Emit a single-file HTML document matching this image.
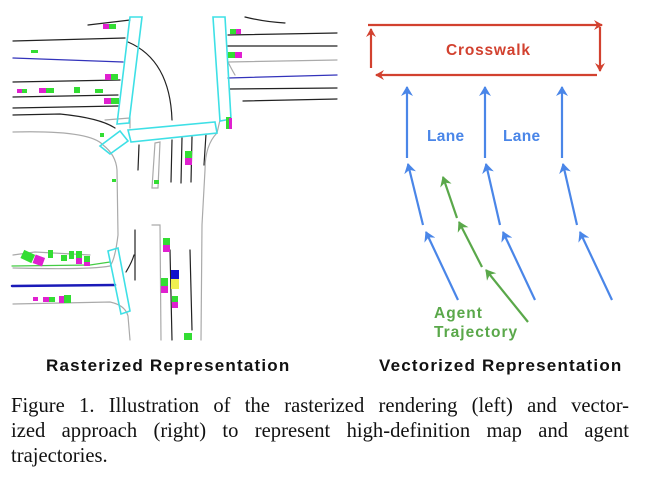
<!DOCTYPE html>
<html><head><meta charset="utf-8"><style>
html,body{margin:0;padding:0;background:#fff;width:645px;height:477px;overflow:hidden;position:relative}
.t{position:absolute;font-family:"Liberation Sans",sans-serif;font-weight:bold;white-space:nowrap}
.cl{position:absolute;left:11px;width:618px;font-family:"Liberation Serif",serif;font-size:20.6px;line-height:25px;text-align:justify;text-align-last:justify;color:#111;white-space:nowrap}
</style></head><body>
<svg width="645" height="477" style="position:absolute;left:0;top:0">
<defs>
<marker id="r" markerWidth="10" markerHeight="10" refX="8" refY="5" orient="auto" markerUnits="userSpaceOnUse"><path d="M0,0 L9,5 L0,10 L3,5 Z" fill="#d2412f"/></marker>
<marker id="b" markerWidth="12" markerHeight="12" refX="9" refY="6" orient="auto" markerUnits="userSpaceOnUse"><path d="M0,0 L10,6 L0,12 L3,6 Z" fill="#4a86e8"/></marker>
<marker id="g" markerWidth="12" markerHeight="12" refX="9" refY="6" orient="auto" markerUnits="userSpaceOnUse"><path d="M0,0 L10,6 L0,12 L3,6 Z" fill="#5aa84a"/></marker>
</defs>
<g fill="none" stroke-linecap="round">
<g stroke="#222" stroke-width="1.2">
<path d="M13,41 L125,38"/><path d="M13,82 L120,80"/><path d="M13,97 L118,95"/><path d="M13,108 L118,106"/><path d="M13,115 L60,114 Q100,118 115,128"/>
<path d="M228,35 L337,33"/><path d="M228,46 L337,46"/><path d="M230,89 L337,88"/><path d="M243,101 L337,99"/>
<path d="M128,42 Q170,60 172,120"/><path d="M88,25 L130,20"/><path d="M245,17 Q265,22 285,23"/>
<path d="M139,145 L138,170"/><path d="M172,140 L171,182"/><path d="M182,138 L181,183"/><path d="M192,137 L191,182"/><path d="M206,134 L204,165"/>
<path d="M135,230 L135,280"/><path d="M126,272 Q132,262 134,255"/><path d="M170,250 L172,340"/><path d="M190,250 L192,330"/>
</g>
<g stroke="#3333bb" stroke-width="1.3"><path d="M13,58 L123,62"/><path d="M228,78 L337,75"/></g>
<path d="M12,286 L115,285" stroke="#1a1ab8" stroke-width="2.5"/>
<path d="M12,266 L90,265 L110,262" stroke="#4c4" stroke-width="1.2"/>
<g stroke="#aaa" stroke-width="1.2">
<path d="M13,132 Q90,130 103,145 Q116,155 117,170 L118,235 Q115,260 110,266 Q90,270 13,268"/>
<path d="M13,304 L110,302 Q125,305 128,316 L130,340"/>
<path d="M228,62 L337,60"/><path d="M228,62 Q232,70 235,75"/>
<path d="M220,120 L217,133 Q205,145 205,170 L202,225 L201,340"/>
<path d="M152,225 L160,225 L161,340"/>
<path d="M155,143 L160,142 L158,188 L152,188 Z"/>
<path d="M105,120 L130,118 L130,128"/>
<path d="M90,255 L35,252 L13,255"/>
</g>
<g stroke="#3ee0e6" stroke-width="1.6">
<path d="M130,17 L142,17 L129,123 L117,124 Z"/><path d="M213,17 L225,17 L231,119 L220,121 Z"/>
<path d="M128,130 L215,122 L217,133 L131,142 Z"/><path d="M100,146 L120,131 L128,141 L110,154 Z"/>
<path d="M108,251 L118,248 L130,311 L121,314 Z"/>
</g>
</g>
<g>
<rect x="103" y="24" width="6" height="5" fill="#e020d0"/><rect x="109" y="24" width="7" height="5" fill="#3d3"/>
<rect x="230" y="29" width="6" height="5" fill="#3d3"/><rect x="236" y="29" width="5" height="5" fill="#e020d0"/>
<rect x="228" y="52" width="7" height="6" fill="#3d3"/><rect x="235" y="52" width="7" height="6" fill="#e020d0"/>
<rect x="105" y="74" width="6" height="6" fill="#e020d0"/><rect x="111" y="74" width="7" height="6" fill="#3d3"/>
<rect x="17" y="89" width="5" height="4" fill="#e020d0"/><rect x="22" y="89" width="5" height="4" fill="#3d3"/>
<rect x="39" y="88" width="7" height="5" fill="#e020d0"/><rect x="46" y="88" width="8" height="5" fill="#3d3"/>
<rect x="74" y="87" width="6" height="6" fill="#3d3"/><rect x="95" y="89" width="8" height="4" fill="#3d3"/>
<rect x="104" y="98" width="7" height="6" fill="#e020d0"/><rect x="111" y="98" width="8" height="6" fill="#3d3"/>
<rect x="31" y="50" width="7" height="3" fill="#3d3"/>
<rect x="226" y="117" width="5" height="12" fill="#3d3"/><rect x="229" y="118" width="3" height="11" fill="#e020d0"/>
<rect x="185" y="151" width="7" height="7" fill="#3d3"/><rect x="185" y="158" width="7" height="7" fill="#e020d0"/>
<rect x="163" y="238" width="7" height="7" fill="#3d3"/><rect x="163" y="245" width="7" height="7" fill="#e020d0"/>
<rect x="161" y="278" width="7" height="8" fill="#3d3"/><rect x="161" y="286" width="7" height="7" fill="#e020d0"/>
<rect x="171" y="270" width="8" height="9" fill="#1010cc"/><rect x="171" y="279" width="8" height="10" fill="#f0ef50"/>
<rect x="172" y="296" width="6" height="6" fill="#3d3"/><rect x="172" y="302" width="6" height="6" fill="#e020d0"/>
<rect x="184" y="333" width="8" height="7" fill="#3d3"/>
<rect x="22" y="252" width="12" height="9" fill="#3d3" transform="rotate(25 28 256)"/><rect x="34" y="256" width="10" height="9" fill="#e020d0" transform="rotate(20 39 260)"/>
<rect x="48" y="250" width="5" height="8" fill="#3d3"/><rect x="61" y="255" width="6" height="6" fill="#3d3"/><rect x="69" y="251" width="5" height="8" fill="#3d3"/>
<rect x="76" y="251" width="6" height="7" fill="#3d3"/><rect x="76" y="258" width="6" height="6" fill="#e020d0"/><rect x="84" y="256" width="6" height="7" fill="#3d3"/><rect x="84" y="262" width="6" height="4" fill="#e020d0"/>
<rect x="33" y="297" width="5" height="4" fill="#e020d0"/><rect x="43" y="297" width="6" height="5" fill="#e020d0"/><rect x="49" y="297" width="6" height="5" fill="#3d3"/>
<rect x="59" y="296" width="5" height="7" fill="#e020d0"/><rect x="64" y="295" width="7" height="8" fill="#3d3"/>
<rect x="154" y="180" width="5" height="4" fill="#3d3"/><rect x="100" y="133" width="4" height="4" fill="#3d3"/><rect x="112" y="179" width="4" height="3" fill="#3d3"/>
</g>
<g stroke-width="2.2" fill="none">
<path d="M368,25 L602,25" stroke="#d2412f" marker-end="url(#r)"/>
<path d="M600,27 L600,71" stroke="#d2412f" marker-end="url(#r)"/>
<path d="M597,75 L376,75" stroke="#d2412f" marker-end="url(#r)"/>
<path d="M371,68 L371,29" stroke="#d2412f" marker-end="url(#r)"/>
<g stroke="#4a86e8">
<path d="M407,158 L407,87" marker-end="url(#b)"/><path d="M485,158 L485,87" marker-end="url(#b)"/><path d="M562,158 L562,87" marker-end="url(#b)"/>
<path d="M423,225 L408,164" marker-end="url(#b)"/><path d="M500,225 L486,164" marker-end="url(#b)"/><path d="M577,225 L563,164" marker-end="url(#b)"/>
<path d="M458,300 L426,232" marker-end="url(#b)"/><path d="M535,300 L503,232" marker-end="url(#b)"/><path d="M612,300 L580,232" marker-end="url(#b)"/>
</g>
<g stroke="#5aa84a">
<path d="M457,218 L443,177" marker-end="url(#g)"/><path d="M482,267 L459,222" marker-end="url(#g)"/><path d="M528,322 L486,270" marker-end="url(#g)"/>
</g>
</g>
</svg>
<div class="t" style="left:446px;top:42px;font-size:15.5px;letter-spacing:0.8px;color:#d2412f">Crosswalk</div>
<div class="t" style="left:427px;top:128px;font-size:15.5px;letter-spacing:0.3px;color:#4a86e8">Lane</div>
<div class="t" style="left:503px;top:128px;font-size:15.5px;letter-spacing:0.3px;color:#4a86e8">Lane</div>
<div class="t" style="left:434px;top:305px;font-size:15.5px;letter-spacing:1px;color:#5aa84a">Agent</div>
<div class="t" style="left:434px;top:324px;font-size:15.5px;letter-spacing:1px;color:#5aa84a">Trajectory</div>
<div class="t" style="left:46px;top:356px;font-size:17px;letter-spacing:1.2px;color:#111">Rasterized Representation</div>
<div class="t" style="left:379px;top:356px;font-size:17px;letter-spacing:1.2px;color:#111">Vectorized Representation</div>
<div class="cl" style="top:394px">Figure 1. Illustration of the rasterized rendering (left) and vector-</div>
<div class="cl" style="top:419px">ized approach (right) to represent high-definition map and agent</div>
<div class="cl" style="top:444px;text-align-last:left">trajectories.</div>
</body></html>
